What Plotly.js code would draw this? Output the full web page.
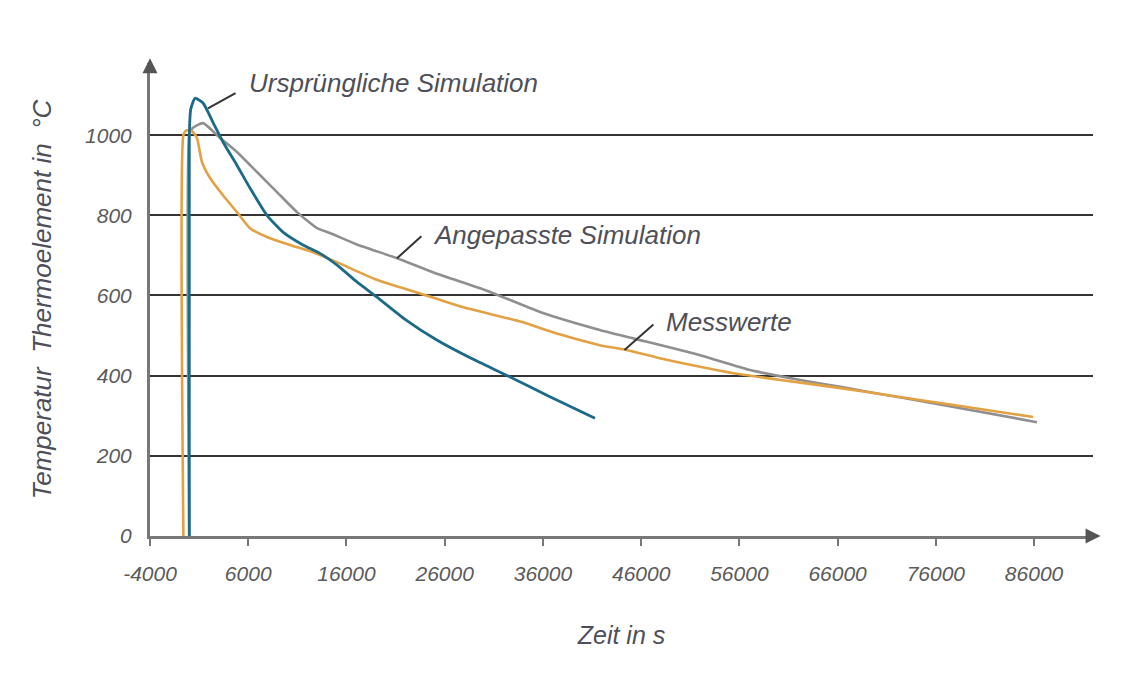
<!DOCTYPE html>
<html>
<head>
<meta charset="utf-8">
<script src="https://cdn.plot.ly/plotly-3.0.1.min.js"></script>
<style>html,body{margin:0;padding:0;background:#fff;}#chart{width:1126px;height:680px;}</style>
</head>
<body>
<div id="chart"></div>
<script>
// Ursprüngliche Simulation (teal)
const ursprX = [0, 0, 150, 580, 1400, 2410, 3430, 4850, 6180, 7910, 9540, 11570, 13300, 15300, 17000, 19100, 22000, 25200, 28800, 32300, 36500, 41300];
const ursprY = [0, 1000, 1065, 1092, 1080, 1032, 983, 925, 868, 800, 758, 726, 705, 671, 635, 596, 540, 489, 442, 401, 350, 294];

// Angepasste Simulation (grey)
const angepX = [0, 0, 300, 1400, 3130, 4850, 6890, 8930, 10960, 13000, 14300, 17000, 21150, 25000, 30300, 35700, 41800, 45200, 52000, 57100, 62200, 66300, 69000, 76000, 86300];
const angepY = [0, 1000, 1017, 1030, 993, 958, 908, 858, 808, 768, 756, 728, 693, 656, 612, 559, 514, 493, 451, 414, 389, 372, 360, 330, 284];

// Messwerte (orange)
const messX = [-600, -600, -300, 300, 780, 1290, 2110, 3430, 4850, 6180, 7910, 10250, 12600, 15300, 19000, 23500, 28000, 33700, 37700, 41800, 44500, 48000, 52000, 55400, 60000, 66300, 72000, 78000, 85900];
const messY = [0, 1000, 1012, 1010, 993, 933, 893, 850, 808, 768, 746, 726, 708, 680, 640, 605, 570, 535, 503, 476, 464, 443, 422, 406, 390, 369, 348, 326, 297];

const xTickVals = [-4000, 6000, 16000, 26000, 36000, 46000, 56000, 66000, 76000, 86000];
const xTickText = ["-4000", "6000", "16000", "26000", "36000", "46000", "56000", "66000", "76000", "86000"];
const yTickVals = [0, 200, 400, 600, 800, 1000];
const yTickText = ["0", "200", "400", "600", "800", "1000"];

const seriesNames = ["Ursprüngliche Simulation", "Angepasste Simulation", "Messwerte"];
const axisTitles = {x: "Zeit in s", y: "Temperatur  Thermoelement in  °C"};

const FONT = "Liberation Sans, Arial, sans-serif";
const txtFont = {family: FONT, size: 26, color: "#4e4f58", style: "italic"};

const traces = [
  {x: angepX, y: angepY, name: seriesNames[1], mode: "lines",
   line: {color: "#8f8f8f", width: 2.6, shape: "spline", smoothing: 0.5}},
  {x: messX, y: messY, name: seriesNames[2], mode: "lines",
   line: {color: "#e3a143", width: 2.6, shape: "spline", smoothing: 0.5}},
  {x: ursprX, y: ursprY, name: seriesNames[0], mode: "lines",
   line: {color: "#1b6a89", width: 2.8, shape: "spline", smoothing: 0.5}}
];

const layout = {
  width: 1126, height: 680,
  margin: {l: 150, r: 33, t: 63, b: 144},
  paper_bgcolor: "#ffffff", plot_bgcolor: "#ffffff",
  showlegend: false,
  xaxis: {
    range: [-4000, 92000],
    tickvals: xTickVals, ticktext: xTickText,
    ticks: "outside", ticklen: 7, tickwidth: 2, tickcolor: "#777",
    showgrid: false, zeroline: false,
    showline: true, linecolor: "#777", linewidth: 3,
    tickfont: {family: FONT, size: 21, color: "#5a5a5a", style: "italic"},
    ticklabelstandoff: 10,
    title: {text: axisTitles.x, standoff: 43, font: {family: FONT, size: 25, color: "#4e4f58", style: "italic"}}
  },
  yaxis: {
    range: [0, 1180],
    tickvals: yTickVals, ticktext: yTickText,
    ticks: "",
    showgrid: true, gridcolor: "#333333", gridwidth: 2,
    zeroline: false,
    showline: true, linecolor: "#777", linewidth: 3,
    tickfont: {family: FONT, size: 21, color: "#5a5a5a", style: "italic"},
    ticklabelstandoff: 11,
    title: {text: axisTitles.y, standoff: 26, font: {family: FONT, size: 26, color: "#4e4f58", style: "italic"}}
  },
  annotations: [
    // axis arrows
    {xref: "paper", yref: "y", x: 1.008, y: 0, text: "", showarrow: true, ax: -14, ay: 0,
     arrowhead: 2, arrowsize: 1, arrowwidth: 3, arrowcolor: "#555"},
    {xref: "x", yref: "paper", x: -4000, y: 1.01, text: "", showarrow: true, ax: 0, ay: 14,
     arrowhead: 2, arrowsize: 1, arrowwidth: 3, arrowcolor: "#555"},
    // leader lines
    {xref: "x", yref: "y", axref: "x", ayref: "y", x: 1900, y: 1067, ax: 4860, ay: 1107, text: "",
     showarrow: true, arrowhead: 0, arrowwidth: 2, arrowcolor: "#333"},
    {xref: "x", yref: "y", axref: "x", ayref: "y", x: 21150, y: 693, ax: 23780, ay: 751, text: "",
     showarrow: true, arrowhead: 0, arrowwidth: 2, arrowcolor: "#333"},
    {xref: "x", yref: "y", axref: "x", ayref: "y", x: 44300, y: 464, ax: 47400, ay: 531, text: "",
     showarrow: true, arrowhead: 0, arrowwidth: 2, arrowcolor: "#333"},
    // labels
    {xref: "x", yref: "y", x: 5900, y: 1130, text: seriesNames[0], showarrow: false,
     xanchor: "left", yanchor: "middle", font: txtFont},
    {xref: "x", yref: "y", x: 24600, y: 751, text: seriesNames[1], showarrow: false,
     xanchor: "left", yanchor: "middle", font: txtFont},
    {xref: "x", yref: "y", x: 48300, y: 534, text: seriesNames[2], showarrow: false,
     xanchor: "left", yanchor: "middle", font: txtFont}
  ]
};

Plotly.newPlot("chart", traces, layout, {displayModeBar: false, staticPlot: true});
</script>
</body>
</html>
